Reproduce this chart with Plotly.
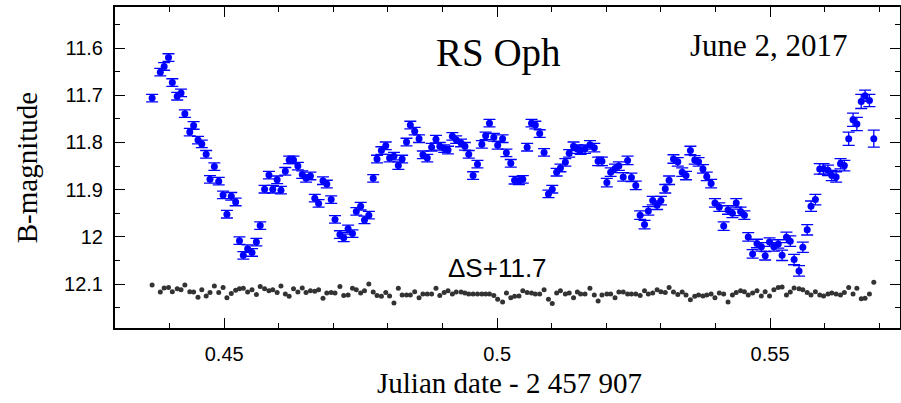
import plotly.graph_objects as go

# Julian date - 2457907 (shared by star and comparison)
jd = [0.4368, 0.4383, 0.4390, 0.4398, 0.4405, 0.4414, 0.4421, 0.4428, 0.4437, 0.4444,
      0.4452, 0.4459, 0.4467, 0.4474, 0.4482, 0.4490, 0.4498, 0.4505, 0.4513, 0.4521,
      0.4528, 0.4535, 0.4543, 0.4551, 0.4559, 0.4566, 0.4574, 0.4582, 0.4589, 0.4597,
      0.4604, 0.4612, 0.4619, 0.4627, 0.4635, 0.4643, 0.4650, 0.4658, 0.4666, 0.4673,
      0.4681, 0.4688, 0.4696, 0.4703, 0.4712, 0.4719, 0.4727, 0.4735, 0.4742, 0.4750,
      0.4757, 0.4765, 0.4773, 0.4780, 0.4788, 0.4796, 0.4803, 0.4811, 0.4819, 0.4826,
      0.4834, 0.4841, 0.4849, 0.4857, 0.4864, 0.4872, 0.4880, 0.4888, 0.4895, 0.4903,
      0.4910, 0.4918, 0.4925, 0.4934, 0.4941, 0.4948, 0.4956, 0.4964, 0.4972, 0.4979,
      0.4986, 0.4994, 0.5001, 0.5010, 0.5017, 0.5025, 0.5032, 0.5040, 0.5047, 0.5055,
      0.5063, 0.5070, 0.5078, 0.5086, 0.5094, 0.5101, 0.5109, 0.5116, 0.5125, 0.5132,
      0.5140, 0.5147, 0.5153, 0.5161, 0.5170, 0.5178, 0.5185, 0.5192, 0.5201, 0.5208,
      0.5216, 0.5223, 0.5231, 0.5239, 0.5246, 0.5254, 0.5262, 0.5270, 0.5277, 0.5285,
      0.5293, 0.5300, 0.5308, 0.5315, 0.5323, 0.5331, 0.5339, 0.5346, 0.5354, 0.5362,
      0.5369, 0.5377, 0.5384, 0.5392, 0.5399, 0.5407, 0.5415, 0.5423, 0.5431, 0.5438,
      0.5446, 0.5453, 0.5460, 0.5468, 0.5476, 0.5484, 0.5491, 0.5499, 0.5507, 0.5515,
      0.5522, 0.5530, 0.5537, 0.5544, 0.5553, 0.5560, 0.5568, 0.5575, 0.5583, 0.5591,
      0.5598, 0.5606, 0.5613, 0.5621, 0.5629, 0.5636, 0.5644, 0.5652, 0.5659, 0.5667,
      0.5674, 0.5682, 0.5690]

# RS Oph B magnitude
b_mag = [11.706, 11.651, 11.639, 11.620, 11.673, 11.702, 11.695, 11.739, 11.778, 11.764,
         11.795, 11.803, 11.825, 11.878, 11.851, 11.882, 11.911, 11.952, 11.914, 11.926,
         12.008, 12.039, 12.025, 12.033, 12.011, 11.976, 11.899, 11.869, 11.899, 11.879,
         11.901, 11.861, 11.837, 11.837, 11.850, 11.868, 11.876, 11.871, 11.918, 11.929,
         11.881, 11.888, 11.921, 11.963, 11.995, 12.002, 11.983, 11.993, 11.946, 11.935,
         11.964, 11.954, 11.876, 11.835, 11.817, 11.807, 11.833, 11.829, 11.849, 11.835,
         11.799, 11.763, 11.776, 11.792, 11.826, 11.833, 11.810, 11.793, 11.808, 11.813,
         11.816, 11.787, 11.794, 11.801, 11.808, 11.825, 11.870, 11.846, 11.804, 11.786,
         11.759, 11.789, 11.806, 11.792, 11.822, 11.844, 11.880, 11.881, 11.878, 11.810,
         11.759, 11.763, 11.781, 11.821, 11.909, 11.899, 11.863, 11.854, 11.842, 11.823,
         11.808, 11.814, 11.816, 11.814, 11.805, 11.811, 11.840, 11.840, 11.885, 11.863,
         11.855, 11.850, 11.873, 11.838, 11.874, 11.891, 11.954, 11.974, 11.945, 11.923,
         11.933, 11.923, 11.898, 11.880, 11.835, 11.841, 11.863, 11.870, 11.817, 11.837,
         11.841, 11.856, 11.872, 11.887, 11.928, 11.937, 11.977, 11.943, 11.950, 11.928,
         11.946, 11.954, 12.000, 12.036, 12.014, 12.021, 12.040, 12.011, 12.021, 12.015,
         12.039, 12.001, 12.009, 12.048, 12.072, 12.022, 11.985, 11.935, 11.921, 11.856,
         11.856, 11.859, 11.870, 11.873, 11.845, 11.849, 11.792, 11.752, 11.761, 11.713,
         11.701, 11.711, 11.792]

b_err = [0.008] * 100 + [0.009] * 50 + [0.011] * 16 + [0.014, 0.014, 0.014, 0.015, 0.012, 0.013, 0.018]

# comparison star, delta S + 11.7
s_mag = [12.102, 12.117, 12.108, 12.107, 12.116, 12.110, 12.112, 12.102, 12.116, 12.117,
         12.128, 12.112, 12.125, 12.118, 12.104, 12.118, 12.107, 12.129, 12.120, 12.113,
         12.110, 12.109, 12.117, 12.112, 12.122, 12.105, 12.110, 12.114, 12.112, 12.118,
         12.104, 12.121, 12.126, 12.110, 12.117, 12.108, 12.118, 12.114,
         12.115, 12.112, 12.130, 12.119, 12.118, 12.119, 12.105, 12.124, 12.123, 12.109,
         12.112, 12.119, 12.114, 12.100, 12.117, 12.124, 12.126, 12.118, 12.125, 12.140,
         12.109, 12.123, 12.123, 12.123, 12.116, 12.129, 12.121, 12.121, 12.121, 12.109,
         12.124, 12.118, 12.114, 12.121, 12.117, 12.117, 12.119, 12.121, 12.121, 12.121,
         12.121, 12.121, 12.121, 12.124, 12.132,
         12.138, 12.119, 12.129, 12.126, 12.125, 12.114, 12.118, 12.119, 12.121, 12.121,
         12.112, 12.132, 12.141, 12.119, 12.114, 12.121, 12.119, 12.129, 12.117, 12.121,
         12.121, 12.109, 12.123, 12.136, 12.123, 12.121, 12.121, 12.129, 12.117, 12.117,
         12.121, 12.121, 12.121, 12.124, 12.114, 12.121, 12.119, 12.112, 12.116, 12.118,
         12.107, 12.117, 12.122, 12.117, 12.123, 12.133,
         12.126, 12.123, 12.125, 12.123, 12.121, 12.129, 12.119, 12.121, 12.138, 12.123,
         12.118, 12.114, 12.116, 12.123, 12.119, 12.114, 12.125, 12.116, 12.125, 12.112,
         12.107, 12.106, 12.123, 12.117, 12.108, 12.110, 12.112, 12.118, 12.123, 12.116,
         12.123, 12.125, 12.121, 12.119, 12.121, 12.123, 12.118, 12.107, 12.121, 12.109,
         12.131, 12.130, 12.121, 12.096]

x_ticks = [0.45, 0.5, 0.55]
x_labels = ["0.45", "0.5", "0.55"]
y_ticks = [11.6, 11.7, 11.8, 11.9, 12.0, 12.1]
y_labels = ["11.6", "11.7", "11.8", "11.9", "12", "12.1"]

serif = "Liberation Serif, Times New Roman, serif"
sans = "Liberation Sans, Arial, sans-serif"

fig = go.Figure()

fig.add_trace(go.Scatter(
    x=jd, y=s_mag, mode="markers",
    marker=dict(size=5, color="#333333"),
    showlegend=False
))

fig.add_trace(go.Scatter(
    x=jd, y=b_mag, mode="markers",
    marker=dict(size=7, color="#0000ff"),
    error_y=dict(type="data", array=b_err, color="#0000ff", thickness=1.3, width=6),
    showlegend=False
))

axis_common = dict(
    showline=True, linewidth=2, linecolor="black", mirror="ticks",
    ticks="inside", ticklen=10, tickwidth=1, tickcolor="black",
    showgrid=False, zeroline=False, automargin=False,
    tickfont=dict(family=sans, size=20, color="black"),
)

fig.update_xaxes(
    range=[0.430, 0.5738], tickmode="array", tickvals=x_ticks, ticktext=x_labels,
    minor=dict(tickmode="linear", tick0=0.45, dtick=0.01, ticks="inside",
               ticklen=5, tickcolor="black", showgrid=False),
    ticklabelstandoff=7,
    **axis_common
)
fig.update_yaxes(
    range=[12.193, 11.513], tickmode="array", tickvals=y_ticks, ticktext=y_labels,
    minor=dict(tickmode="linear", tick0=11.6, dtick=0.05, ticks="inside",
               ticklen=5, tickcolor="black", showgrid=False),
    ticklabelstandoff=6,
    **axis_common
)

notes = [
    dict(text="RS Oph", x=0.488, y=0.856, font=dict(family=serif, size=39, color="black")),
    dict(text="June 2, 2017", x=0.833, y=0.881, font=dict(family=serif, size=31, color="black")),
    dict(text="ΔS+11.7", x=0.487, y=0.1875, font=dict(family=sans, size=26, color="black")),
    dict(text="Julian date - 2 457 907", x=0.503, y=-0.170,
         font=dict(family=serif, size=29, color="black")),
    dict(text="B-magnitude", x=-0.112, y=0.498, textangle=-90,
         font=dict(family=serif, size=29, color="black")),
]
for n in notes:
    fig.add_annotation(xref="paper", yref="paper", showarrow=False,
                       xanchor="center", yanchor="middle", **n)

fig.update_layout(
    width=901, height=403,
    margin=dict(l=115, r=1, t=7, b=75),
    plot_bgcolor="white", paper_bgcolor="white",
)

fig.write_html("out.html", config={"displayModeBar": False},
               post_script="document.body.style.margin='0';")
